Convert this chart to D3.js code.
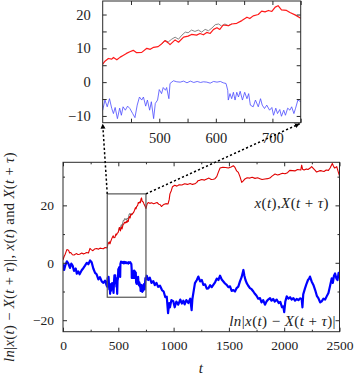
<!DOCTYPE html>
<html>
<head>
<meta charset="utf-8">
<script src="https://cdn.jsdelivr.net/npm/d3@7"></script>
<style>
    body { margin: 0; background: #fff; }
    svg text { font-family: "Liberation Serif", "Times New Roman", serif !important; fill: #222; }
</style>
</head>
<body>
<svg id="chart" width="355" height="375"></svg>
<script>
//  x(t), the red trajectory  [t, value]
const xSeries = [
    [0, 1], [10, 2.2], [20, 3], [35, 4.6], [50, 4.4], [60, 3.4], [70, 3.6], [85, 2.8], [100, 2.7],
    [120, 3.2], [135, 2.9], [150, 3], [170, 3.4], [185, 3.1], [200, 3.3], [215, 3.6], [230, 3.4],
    [244, 5], [255, 4.6], [270, 4.2], [285, 4.8], [305, 5], [320, 4.7], [335, 5.1], [350, 5],
    [365, 4.9], [380, 5.3], [395, 5.2],
    [400, 5.3], [404, 6.2], [410, 7.0], [416, 6.8], [419, 7.3], [425, 6.6], [431, 7.4], [436, 7.9],
    [442, 8.5], [448, 9.0], [454, 9.4], [460, 8.7], [469, 8.8], [478, 10.0], [484, 9.7], [490, 10.3],
    [498, 10.5], [504, 11.3], [510, 12.3], [516, 11.6], [519, 11.1], [528, 12.5], [534, 11.8],
    [543, 13.3], [551, 13.6], [557, 14.1], [566, 13.9], [572, 14.4], [578, 14.0], [584, 14.7],
    [590, 14.4], [596, 15.6], [602, 16.1], [607, 15.6], [613, 16.9], [622, 16.7], [628, 17.2],
    [637, 17.4], [646, 18.2], [655, 19.2], [660, 18.8], [666, 19.6], [675, 20.0], [681, 21.0],
    [687, 20.8], [693, 21.2], [699, 20.9], [705, 22.2], [710, 22.6], [716, 21.4], [725, 21.2],
    [731, 20.6], [740, 19.9], [750, 18.9],
    [760, 20.4], [770, 21], [785, 20.7], [800, 20.9], [820, 20.6], [850, 21], [865, 20.4], [877, 20.3],
    [890, 19.6], [900, 20], [915, 20.4], [930, 20.6], [950, 20.5], [960, 22], [967, 24], [980, 25.2],
    [990, 26.5], [1010, 27], [1030, 26.7], [1050, 27.2], [1075, 27.1], [1100, 27.5], [1125, 27.3],
    [1150, 27.6], [1170, 27.3], [1193, 27.5], [1210, 28], [1221, 28.6], [1240, 28.8], [1254, 29],
    [1280, 28.8], [1300, 29.2], [1320, 29.5], [1340, 29], [1360, 29.1], [1374, 29.3], [1390, 30],
    [1404, 31.5], [1420, 33], [1445, 33.3], [1470, 33.2], [1495, 33], [1520, 33.4], [1540, 33.8],
    [1555, 33.2], [1570, 32], [1585, 31.5], [1600, 30], [1616, 28], [1630, 28.5], [1645, 29.2],
    [1665, 29.6], [1690, 29.5], [1710, 29.8], [1736, 29.4], [1760, 29.6], [1780, 29.3], [1800, 29],
    [1826, 29.2], [1850, 29.3], [1870, 29.5], [1890, 30.2], [1917, 30.9], [1940, 30.6], [1960, 30.8],
    [1985, 31.2], [2007, 31], [2030, 31.4], [2050, 32.2], [2075, 32.1], [2097, 32], [2120, 32.5],
    [2150, 32.3], [2158, 34], [2166, 32.6], [2180, 32.3], [2200, 32.7], [2215, 32.5], [2235, 33],
    [2248, 33.5], [2265, 32.8], [2280, 32.2], [2293, 31.6], [2310, 31.9], [2325, 32.1], [2340, 32],
    [2360, 31.8], [2380, 32.3], [2400, 32.2], [2415, 33], [2435, 34.6], [2445, 33.7], [2455, 33],
    [2465, 33.2], [2475, 33.5], [2490, 31.5], [2500, 30.3]
];

//  X(t+tau), grey; only where it separates from x(t)
const XSeries = [
    [505, 11.3], [510, 12.3], [516, 11.9], [522, 12.7], [528, 13.3], [534, 12.7], [540, 13.9],
    [546, 14.8], [551, 14.6], [557, 15.4], [563, 15], [569, 15.4], [575, 14.8], [581, 15.6],
    [587, 15.2], [593, 16], [599, 17], [605, 17.2], [610, 16.6], [616, 17.2], [622, 16.7], [628, 17.2]
];

//  ln|x(t) - X(t+tau)|, blue
const lnSeries = [
    [0, -0.5], [10, -2.5], [20, -1], [35, 0.5], [48, -0.2], [63, -1.8], [75, -0.3], [87, -1],
    [100, -2.8], [115, -2], [125, -3.8], [138, -3], [150, -4], [169, -2.6], [185, -1.8], [199, -1],
    [215, 0], [229, -0.5], [245, 0.8], [259, 0.2], [274, -2], [290, -3.5], [304, -4], [320, -5.8],
    [334, -5], [350, -6.5], [365, -7], [380, -6.2], [395, -8],
    [400, -8.3], [404, -5.3], [408, -7.3], [412, -4.9], [416, -7.8], [419, -9.3], [422, -7.5],
    [426, -10.8], [430, -7.7], [433, -9.8], [436, -7.3], [440, -8.3], [444, -7.1], [448, -7.8],
    [453, -9.3], [457, -10.5], [461, -6.8], [465, -4.4], [469, -5.3], [472, -4.4], [476, -7.1],
    [479, -5.3], [483, -8.3], [486, -5.8], [490, -10.8], [493, -6.3], [497, -5.3], [500, -2.2],
    [504, -3.4], [507, -1.6], [511, -2.4], [513, -1.6], [517, -4.9], [519, -0.4], [525, 0.4],
    [531, 0.1], [537, 0], [543, 0.3], [549, -0.2], [555, 0.3], [561, -0.1], [567, 0.2], [573, -0.1],
    [578, 0.1], [584, 0], [590, -0.3], [596, 0.2], [602, 0], [608, 0.2], [613, -0.2], [618, -0.4],
    [621, -2.4], [622, -5.3], [625, -3.4], [628, -4.9], [631, -3.0], [634, -5.3], [637, -3.0],
    [640, -4.4], [643, -2.7], [647, -5.3], [651, -3.0], [655, -4.9], [658, -3.4], [661, -6.8],
    [666, -7.3], [670, -5.3], [675, -7.3], [679, -4.9], [682, -6.8], [686, -7.8], [690, -6.8],
    [695, -8.3], [699, -7.5], [702, -9.8], [706, -7.7], [709, -9.3], [713, -8.1], [716, -10.1],
    [720, -8.3], [723, -9.8], [727, -7.7], [731, -8.3], [734, -7.3], [738, -9.3], [741, -7.7],
    [745, -5.3], [750, -5.8],
    [757, -4.5], [770, -6], [785, -5.2], [800, -7], [817, -6.4], [830, -7.8], [845, -7], [860, -8.4],
    [877, -8], [895, -9.5], [910, -10], [925, -12], [938, -11.8], [950, -17.5], [960, -14], [967, -15.5],
    [980, -13], [997, -13.4], [1010, -15.5], [1025, -13.5], [1042, -14.6], [1060, -12.8], [1075, -14.2],
    [1088, -13.2], [1100, -14.5], [1115, -13], [1133, -14], [1150, -12.5], [1163, -16.5], [1170, -12.6],
    [1185, -9], [1193, -7.1], [1210, -6], [1224, -4.8], [1240, -6.5], [1255, -6], [1269, -7.7],
    [1285, -7.5], [1300, -9], [1314, -8.9], [1330, -7.8], [1345, -8.5], [1359, -7.7], [1375, -6.8],
    [1390, -5.5], [1405, -6], [1420, -4.5], [1435, -5.8], [1450, -6.5], [1465, -7.2], [1480, -7.7],
    [1495, -8.5], [1510, -8.2], [1525, -9.8], [1540, -9.5], [1555, -10], [1570, -8.8], [1585, -8.3],
    [1600, -6.5], [1615, -5], [1631, -2.5], [1640, -4.5], [1650, -6], [1661, -7.1], [1675, -8],
    [1690, -8.8], [1705, -9.2], [1721, -10], [1735, -10.8], [1750, -11.5], [1765, -12.5], [1781, -12.3],
    [1795, -13.8], [1810, -13], [1826, -14.6], [1840, -13.5], [1855, -12.8], [1872, -12.3], [1885, -13.2],
    [1900, -12.6], [1915, -13.5], [1932, -12.8], [1950, -14], [1965, -13.6], [1980, -15.5], [1992, -15.2],
    [2000, -17.2], [2010, -13.5], [2023, -11.7], [2038, -12.5], [2053, -12], [2068, -12.8], [2083, -12.3],
    [2098, -13.2], [2113, -12.6], [2128, -13], [2143, -12.4], [2158, -12.6], [2165, -15.5], [2172, -11],
    [2188, -8.9], [2200, -7.5], [2215, -6], [2225, -5.5], [2233, -4.8], [2248, -6.5], [2264, -7.7],
    [2280, -9.5], [2295, -11.5], [2309, -12.3], [2325, -13.8], [2339, -13.4], [2355, -12.5], [2370, -12.8],
    [2384, -11.7], [2400, -10.5], [2415, -8], [2430, -5.4], [2440, -7], [2450, -4.5], [2460, -3.7],
    [2472, -5.5], [2482, -6], [2492, -3.5], [2500, -4.3]
];

const mainXTicks = [0, 500, 1000, 1500, 2000, 2500];
const mainXMinor = [250, 750, 1250, 1750, 2250];
const mainYTicks = [-20, 0, 20];
const mainYMinor = [-10, 10, 30];
const insetXTicks = [500, 600, 700];
const insetXMinor = [450, 550, 650, 750];
const insetYTicks = [-10, 0, 10, 20];
const insetYMinor = [-5, 5, 15];
const zoomWindow = {t0: 400, t1: 750, v0: -12, v1: 24};

const svg = d3.select("#chart");
const ink = "#2a2a2a";
const serif = "'Liberation Serif', 'Times New Roman', serif";

//  main panel scales
const x = d3.scaleLinear().domain([0, 2500]).range([63, 339.5]);
const y = d3.scaleLinear().domain([-24, 35]).range([331.7, 162.3]);

//  inset scales
const xi = d3.scaleLinear().domain([zoomWindow.t0, zoomWindow.t1]).range([102.7, 300.7]);
const yi = d3.scaleLinear().domain([zoomWindow.v0, zoomWindow.v1]).range([122.7, 1]);

const defs = svg.append("defs");
defs.append("marker")
    .attr("id", "head")
    .attr("viewBox", "0 0 10 10")
    .attr("refX", 10).attr("refY", 5)
    .attr("markerWidth", 5).attr("markerHeight", 5)
    .attr("markerUnits", "userSpaceOnUse")
    .attr("orient", "auto")
    .append("path")
    .attr("d", "M0,0L10,5L0,10z")
    .attr("fill", "#000");

function clip(id, xs, ys) {
    defs.append("clipPath").attr("id", id)
        .append("rect")
        .attr("x", xs.range()[0]).attr("y", ys.range()[1])
        .attr("width", xs.range()[1] - xs.range()[0])
        .attr("height", ys.range()[0] - ys.range()[1]);
}
clip("clipMain", x, y);
clip("clipInset", xi, yi);

//  letters italic, everything else upright, like TeX math
function mathText(sel, str) {
    sel.attr("font-family", serif).attr("letter-spacing", "0.4px");
    str.split(/(and|[A-Za-zτ]+)/).filter(s => s.length).forEach(s => {
        sel.append("tspan")
            .attr("font-style", (/^[A-Za-zτ]+$/.test(s) && s !== "and") ? "italic" : "normal")
            .text(s);
    });
    return sel;
}

/**
 * Boxed panel with inward ticks on all four sides.
 */
function panel(xs, ys, opt) {
    const g = svg.append("g");
    const [x0, x1] = xs.range();
    const [y0, y1] = ys.range();

    const sides = [
        [d3.axisBottom, xs, `translate(0,${y0})`],
        [d3.axisTop, xs, `translate(0,${y1})`],
        [d3.axisLeft, ys, `translate(${x0},0)`],
        [d3.axisRight, ys, `translate(${x1},0)`]
    ];
    sides.forEach((s, i) => {
        const isX = i < 2;
        const major = s[0](s[1]).tickValues(isX ? opt.xTicks : opt.yTicks)
            .tickSize(-opt.major).tickPadding(isX ? opt.xPad : opt.yPad)
            .tickFormat(i === 0 || i === 2 ? d3.format("d") : "");
        const a = g.append("g").attr("transform", s[2]).call(major)
            .attr("font-family", serif);
        a.select(".domain").remove();
        a.selectAll("line").attr("stroke", ink);
        a.selectAll("text").attr("font-size", opt.font).attr("fill", ink).attr("font-family", serif);

        const minorAxis = s[0](s[1]).tickValues(isX ? opt.xMinor : opt.yMinor)
            .tickSize(-opt.minor).tickFormat("");
        const m = g.append("g").attr("transform", s[2]).call(minorAxis);
        m.select(".domain").remove();
        m.selectAll("line").attr("stroke", ink);
    });

    g.append("rect")
        .attr("x", x0).attr("y", y1)
        .attr("width", x1 - x0).attr("height", y0 - y1)
        .attr("fill", "none").attr("stroke", ink).attr("stroke-width", 1);
    return g;
}

function drawLine(data, xs, ys, clipId, color, width) {
    const line = d3.line().x(d => xs(d[0])).y(d => ys(d[1]));
    svg.append("path")
        .datum(data)
        .attr("clip-path", `url(#${clipId})`)
        .attr("d", line)
        .attr("fill", "none")
        .attr("stroke", color)
        .attr("stroke-width", width)
        .attr("stroke-linejoin", "round");
}

//  ---- main panel
drawLine(lnSeries, x, y, "clipMain", "#0000ff", 2.2);
drawLine(XSeries, x, y, "clipMain", "#777", 1);
drawLine(xSeries, x, y, "clipMain", "#e00000", 1.1);

panel(x, y, {
    xTicks: mainXTicks, xMinor: mainXMinor, yTicks: mainYTicks, yMinor: mainYMinor,
    major: 4, minor: 2, xPad: 9, yPad: 9, font: "13.5px"
});

//  zoom window
svg.append("rect")
    .attr("x", x(zoomWindow.t0)).attr("y", y(zoomWindow.v1))
    .attr("width", x(zoomWindow.t1) - x(zoomWindow.t0))
    .attr("height", y(zoomWindow.v0) - y(zoomWindow.v1))
    .attr("fill", "none").attr("stroke", "#555").attr("stroke-width", 1.2);

//  ---- inset
drawLine(lnSeries, xi, yi, "clipInset", "#4a4aff", 0.8);
drawLine(XSeries, xi, yi, "clipInset", "#777", 0.9);
drawLine(xSeries, xi, yi, "clipInset", "#ff1a1a", 1.2);

panel(xi, yi, {
    xTicks: insetXTicks, xMinor: insetXMinor, yTicks: insetYTicks, yMinor: insetYMinor,
    major: 4, minor: 4, xPad: 10, yPad: 12, font: "14.5px"
});

//  dotted arrows from the window to the inset
const arrows = [
    [[x(zoomWindow.t0), y(zoomWindow.v1)], [xi(zoomWindow.t0), yi(zoomWindow.v0) + 1]],
    [[x(zoomWindow.t1), y(zoomWindow.v1)], [xi(zoomWindow.t1) - 1, yi(zoomWindow.v0) + 1]]
];
svg.selectAll(".arrow")
    .data(arrows)
    .join("line")
    .attr("class", "arrow")
    .attr("x1", d => d[0][0]).attr("y1", d => d[0][1])
    .attr("x2", d => d[1][0]).attr("y2", d => d[1][1])
    .attr("stroke", "#000")
    .attr("stroke-width", 1.5)
    .attr("stroke-dasharray", "2.2,2.2")
    .attr("marker-end", "url(#head)");

//  labels
mathText(svg.append("text")
    .attr("x", 329).attr("y", 208)
    .attr("text-anchor", "end").attr("font-size", "15px"), "x(t),X(t + τ)");

mathText(svg.append("text")
    .attr("x", 336).attr("y", 326)
    .attr("text-anchor", "end").attr("font-size", "15px"), "ln|x(t) − X(t + τ)|");

mathText(svg.append("text")
    .attr("x", 201).attr("y", 373)
    .attr("text-anchor", "middle").attr("font-size", "15px"), "t");

mathText(svg.append("text")
    .attr("transform", "translate(14,257) rotate(-90)")
    .attr("text-anchor", "middle").attr("font-size", "14.5px"), "ln|x(t) − X(t + τ)|, x(t) and X(t + τ)");
</script>
</body>
</html>
